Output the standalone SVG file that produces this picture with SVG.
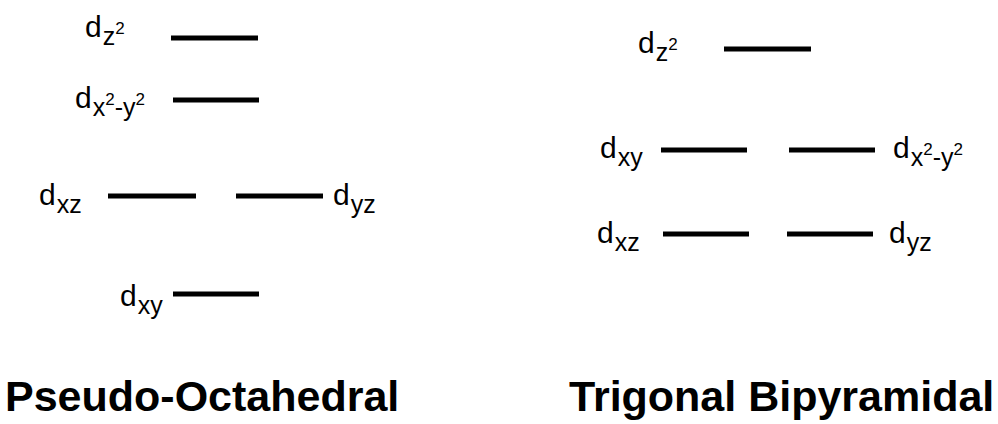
<svg xmlns="http://www.w3.org/2000/svg" width="998" height="424" viewBox="0 0 998 424">
  <style>
    .lvl { stroke: #000; stroke-width: 5; fill: none; }
    .lbl { font-family: "Liberation Sans", Arial, sans-serif; font-size: 30px; fill: #000; }
    .sub { font-size: 25px; }
    .sup { font-size: 17px; }
    .title { font-family: "Liberation Sans", Arial, sans-serif; font-size: 43px; font-weight: bold; fill: #000; }
  </style>
  <rect width="998" height="424" fill="#fff"/>

  <!-- Pseudo-octahedral splitting -->
  <g id="oh-dz2">
    <line class="lvl" x1="171" y1="38" x2="258" y2="38"/>
    <text class="lbl" x="85" y="37">d<tspan class="sub" dx="1" dy="8">z</tspan><tspan class="sup" dy="-11">2</tspan></text>
  </g>
  <g id="oh-dx2y2">
    <line class="lvl" x1="173" y1="100" x2="259" y2="100"/>
    <text class="lbl" x="75" y="108">d<tspan class="sub" dx="1" dy="8">x</tspan><tspan class="sup" dy="-11">2</tspan><tspan class="sub" dy="11">-y</tspan><tspan class="sup" dy="-11">2</tspan></text>
  </g>
  <g id="oh-dxz">
    <line class="lvl" x1="108" y1="196" x2="196" y2="196"/>
    <text class="lbl" x="39" y="205">d<tspan class="sub" dx="1" dy="8">xz</tspan></text>
  </g>
  <g id="oh-dyz">
    <line class="lvl" x1="236" y1="196" x2="323" y2="196"/>
    <text class="lbl" x="333" y="205">d<tspan class="sub" dx="1" dy="8">yz</tspan></text>
  </g>
  <g id="oh-dxy">
    <line class="lvl" x1="173" y1="294" x2="259" y2="294"/>
    <text class="lbl" x="120" y="306">d<tspan class="sub" dx="1" dy="8">xy</tspan></text>
  </g>

  <!-- Trigonal bipyramidal splitting -->
  <g id="tbp-dz2">
    <line class="lvl" x1="724" y1="49" x2="811" y2="49"/>
    <text class="lbl" x="638" y="53">d<tspan class="sub" dx="1" dy="8">z</tspan><tspan class="sup" dy="-11">2</tspan></text>
  </g>
  <g id="tbp-dxy">
    <line class="lvl" x1="661" y1="150" x2="747" y2="150"/>
    <text class="lbl" x="600" y="158">d<tspan class="sub" dx="1" dy="8">xy</tspan></text>
  </g>
  <g id="tbp-dx2y2">
    <line class="lvl" x1="789" y1="150" x2="875" y2="150"/>
    <text class="lbl" x="893" y="158">d<tspan class="sub" dx="1" dy="8">x</tspan><tspan class="sup" dy="-11">2</tspan><tspan class="sub" dy="11">-y</tspan><tspan class="sup" dy="-11">2</tspan></text>
  </g>
  <g id="tbp-dxz">
    <line class="lvl" x1="663" y1="234" x2="749" y2="234"/>
    <text class="lbl" x="597" y="243">d<tspan class="sub" dx="1" dy="8">xz</tspan></text>
  </g>
  <g id="tbp-dyz">
    <line class="lvl" x1="787" y1="234" x2="873" y2="234"/>
    <text class="lbl" x="889" y="243">d<tspan class="sub" dx="1" dy="8">yz</tspan></text>
  </g>

  <!-- Geometry captions -->
  <g id="captions">
    <text class="title" x="5" y="411">Pseudo-Octahedral</text>
    <text class="title" x="569" y="411">Trigonal Bipyramidal</text>
  </g>
</svg>
